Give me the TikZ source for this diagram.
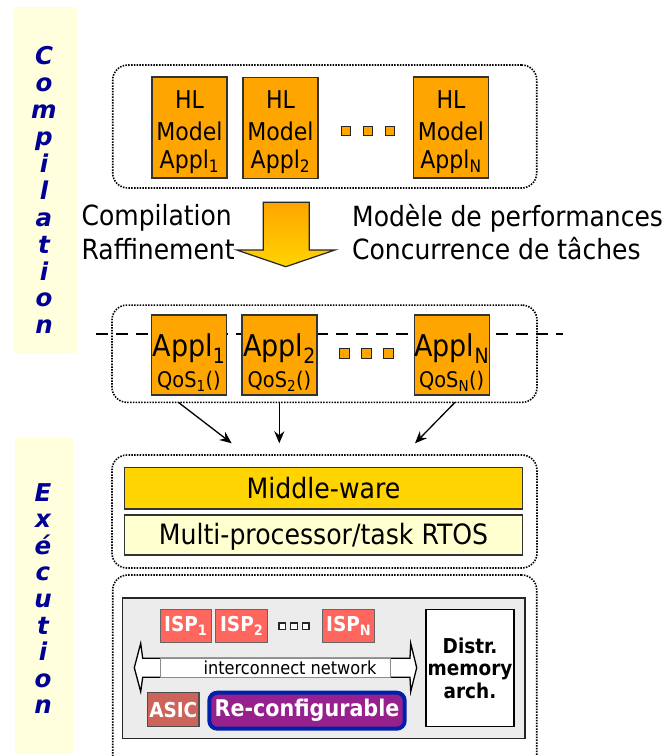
\documentclass[tikz,border=0pt]{standalone}
\usepackage{fontspec}
\setmainfont{DejaVu Sans Condensed}[BoldFont={DejaVu Sans Condensed Bold}]
\newfontfamily\vfont{DejaVu Sans Bold Oblique}
\usetikzlibrary{arrows.meta}
\definecolor{hlor}{RGB}{255,165,0}
\definecolor{goldy}{RGB}{255,212,0}
\definecolor{lyel}{RGB}{255,255,208}
\definecolor{bary}{RGB}{255,255,221}
\definecolor{vblue}{RGB}{0,0,150}
\definecolor{ispred}{RGB}{255,102,94}
\definecolor{asicred}{RGB}{204,100,92}
\definecolor{reconf}{RGB}{150,32,140}
\definecolor{reblue}{RGB}{0,32,170}
\definecolor{netgray}{RGB}{236,236,236}
\begin{document}
\begin{tikzpicture}[x=1pt,y=-1pt,
  dotbox/.style={draw=black, line width=1.6pt, dash pattern=on 1.5pt off 1.3pt, rounded corners=15pt, inner sep=0pt},
  hlbox/.style={draw=black!80, line width=1.4pt, fill=hlor, minimum width=75pt, minimum height=101pt, inner sep=0pt},
  applbox/.style={draw=black!80, line width=1.4pt, fill=hlor, minimum width=75pt, minimum height=80pt, inner sep=0pt},
  sqbox/.style={draw=black!85, line width=1.3pt, fill=hlor, minimum size=9pt, inner sep=0pt},
  wsq/.style={draw=black!85, line width=1.2pt, fill=white, minimum size=6.5pt, inner sep=0pt},
  hltxt/.style={inner sep=0pt, anchor=base, font=\fontsize{24.5}{30}\selectfont},
  lbl/.style={inner sep=0pt, anchor=west, font=\fontsize{27.8}{33}\selectfont},
  vlet/.style={inner sep=0pt, anchor=north, align=center, text=vblue},
  ispbox/.style={draw=black!60, line width=1pt, fill=ispred, minimum width=51.5pt, minimum height=33.4pt, inner sep=0pt, text=white, font=\bfseries\fontsize{20.5}{22}\selectfont},
  arr/.style={line width=1.3pt, -{Stealth[length=12pt,width=10pt]}},
  dashline/.style={line width=2pt, dash pattern=on 12pt off 8pt}
]
\useasboundingbox (0,0) rectangle (667,756);
\clip (0,0) rectangle (667,756);

% side bars
\node[fill=bary, minimum width=63pt, minimum height=346pt, inner sep=0pt] (bar1) at (45.5,180) {};
\node[fill=bary, minimum width=58pt, minimum height=315pt, inner sep=0pt] (bar2) at (44,595.5) {};
\node[vlet, font=\vfont\fontsize{24.5}{26.9}\selectfont] (vcomp) at (44,46.5) {C\\o\\m\\p\\i\\l\\a\\t\\i\\o\\n};
\node[vlet, font=\vfont\fontsize{24.5}{26.6}\selectfont] (vexec) at (43,483) {E\\x\\é\\c\\u\\t\\i\\o\\n};

% top dotted box with HL models
\node[dotbox, minimum width=424pt, minimum height=123pt] (b1) at (324.7,126.5) {};
\node[hlbox] (h1) at (189.5,127.5) {};
\node[hlbox] (h2) at (280.5,127.8) {};
\node[hlbox] (hN) at (451,127.5) {};
\foreach \cx/\s in {189.5/1, 280.5/2, 451/N}{
  \node[hltxt] (hla\s) at (\cx,108.7) {HL};
  \node[hltxt] (hlb\s) at (\cx,140.4) {Model};
  \node[hltxt] (hlc\s) at (\cx,168.7) {Appl\textsubscript{\s}};
}
\node[sqbox] (q1) at (346.3,131) {};
\node[sqbox] (q2) at (368,131) {};
\node[sqbox] (q3) at (389.7,131) {};

% big arrow
\shade[top color=hlor, bottom color=goldy, draw=black!85, line width=1.2pt]
  (263.3,202.3) -- (309.3,202.3) -- (309.3,250) -- (335,250) -- (285.7,266.7)
  -- (236.7,250) -- (263.3,250) -- cycle;

\node[lbl] (lcomp) at (81.5,218) {Compilation};
\node[lbl] (lraff) at (81.5,249) {Raffinement};
\node[lbl] (lmod) at (352,218) {Modèle de performances};
\node[lbl] (lconc) at (352,249) {Concurrence de tâches};

% second dotted box with applications
\node[dotbox, minimum width=425pt, minimum height=97.3pt] (b2) at (324.5,353.7) {};
\coordinate (dl) at (96,334.3);
\coordinate (dr) at (563,334.3);
\draw[dashline] (dl) -- (dr);
\node[applbox] (a1) at (189,355) {};
\node[applbox] (a2) at (279.5,355) {};
\node[applbox] (aN) at (451.7,355) {};
\foreach \cx/\s in {189/1, 279.5/2, 451.7/N}{
  \node[inner sep=0pt, anchor=base, font=\fontsize{30}{30}\selectfont] (apa\s) at (\cx,356.5) {Appl\textsubscript{\s}};
  \node[inner sep=0pt, anchor=base, font=\fontsize{21.5}{24}\selectfont] (apb\s) at (\cx,387.5) {QoS\textsubscript{\s}()};
}
\node[sqbox, minimum size=10pt] (r1) at (344.7,353.7) {};
\node[sqbox, minimum size=10pt] (r2) at (366.5,353.7) {};
\node[sqbox, minimum size=10pt] (r3) at (388.3,353.7) {};

% arrows down
\coordinate (s1) at (178.3,402.3);
\coordinate (e1) at (231.7,443.3);
\coordinate (s2) at (279.3,402.3);
\coordinate (e2) at (279.3,443.3);
\coordinate (s3) at (455,402.3);
\coordinate (e3) at (415,443.3);
\draw[arr] (s1) -- (e1);
\draw[arr] (s2) -- (e2);
\draw[arr] (s3) -- (e3);

% middleware / RTOS
\node[dotbox, minimum width=425pt, minimum height=113pt] (b3) at (324.5,511.5) {};
\node[draw=black!80, line width=1.4pt, fill=goldy, minimum width=398.4pt, minimum height=41.3pt, inner sep=0pt, font=\fontsize{28}{30}\selectfont] (mw) at (323.5,488.3) {Middle-ware};
\node[draw=black!80, line width=1.4pt, fill=lyel, minimum width=398.4pt, minimum height=40pt, inner sep=0pt, text depth=2pt, font=\fontsize{28}{30}\selectfont] (rtos) at (323.5,535) {Multi-processor/task RTOS};

% hardware
\node[dotbox, minimum width=424pt, minimum height=225pt] (b4) at (324.7,687.5) {};
\node[draw=black!85, line width=1.6pt, fill=netgray, minimum width=402.7pt, minimum height=140.6pt, inner sep=0pt] (hw) at (323.7,668) {};
\node[ispbox] (isp1) at (185.8,626) {ISP\textsubscript{1}};
\node[ispbox] (isp2) at (241.7,626) {ISP\textsubscript{2}};
\node[ispbox] (ispN) at (348.7,626) {ISP\textsubscript{N}};
\node[wsq] (w1) at (282.3,626.3) {};
\node[wsq] (w2) at (294,626.3) {};
\node[wsq] (w3) at (305.7,626.3) {};

% interconnect double arrow
\draw[fill=white, line width=1.3pt]
  (134.3,667.7) .. controls (137.5,656) .. (140.7,643.3)
  .. controls (141.5,650) .. (142.7,658.3) -- (410,658.3)
  .. controls (410.5,650) .. (410.7,643.3)
  .. controls (413.5,656) .. (416.7,667.7)
  .. controls (413.5,680) .. (410.7,691.7)
  .. controls (410.5,685) .. (410,677.3) -- (142.7,677.3)
  .. controls (141.5,685) .. (140.7,691.7)
  .. controls (137.5,680) .. (134.3,667.7) -- cycle;
\node[draw=black!45, line width=0.6pt, fill=white, minimum width=230.7pt, minimum height=19pt, inner sep=0pt] (netbox) at (275.3,667.8) {};
\node[inner sep=0pt, font=\fontsize{18}{20}\selectfont] (nettxt) at (290,667.5) {interconnect network};

\node[draw=black!70, line width=1.2pt, fill=asicred, minimum width=51.3pt, minimum height=34pt, inner sep=0pt, text=white, font=\bfseries\fontsize{20.5}{22}\selectfont] (asic) at (173.3,709.7) {ASIC};
\node[draw=reblue, line width=4pt, fill=reconf, rounded corners=8pt, minimum width=195.4pt, minimum height=36pt, inner sep=0pt, text=white, font=\bfseries\fontsize{23}{24}\selectfont] (rc) at (307,710.7) {Re-configurable};
\node[draw=black, line width=1.5pt, fill=white, minimum width=88pt, minimum height=117.4pt, inner sep=0pt, align=center, font=\bfseries\fontsize{20.5}{22.5}\selectfont] (mem) at (470,668) {Distr.\\memory\\arch.};
\end{tikzpicture}
\end{document}
